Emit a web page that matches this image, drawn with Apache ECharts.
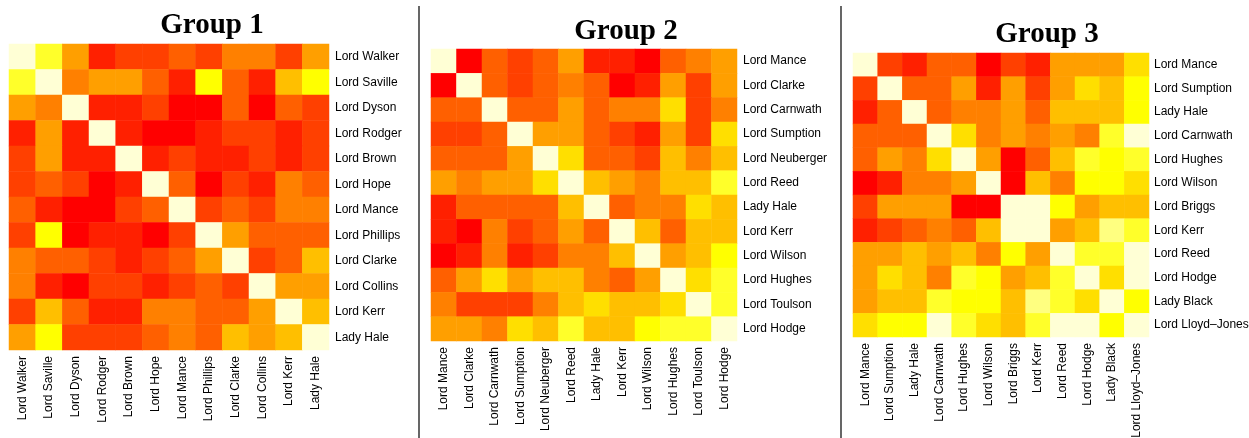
<!DOCTYPE html>
<html>
<head>
<meta charset="utf-8">
<script src="https://cdn.jsdelivr.net/npm/echarts@6/dist/echarts.min.js"></script>
<style>
html,body{margin:0;padding:0;background:#fff;}
#chart{width:1249px;height:438px;}
</style>
</head>
<body>
<div id="chart"></div>
<script>
// Colour levels (R heat.colors(12)), level 0 = red ... level 11 = cream
const levelColors = ['#FF0000','#FF2000','#FF4000','#FF6000','#FF8000','#FF9F00','#FFBF00','#FFDF00','#FFFF00','#FFFF2A','#FFFF80','#FFFFD5'];

const group1Names = ['Lord Walker','Lord Saville','Lord Dyson','Lord Rodger','Lord Brown','Lord Hope','Lord Mance','Lord Phillips','Lord Clarke','Lord Collins','Lord Kerr','Lady Hale'];
const group1Levels = [
  [11,9,5,1,2,2,3,2,4,4,2,5],
  [9,11,4,5,5,3,1,8,3,1,6,8],
  [5,4,11,1,1,2,0,0,3,0,3,2],
  [1,5,1,11,1,0,0,1,2,2,1,2],
  [2,5,1,1,11,1,2,1,1,2,1,2],
  [2,3,2,0,1,11,3,0,2,1,4,3],
  [3,1,0,0,2,3,11,2,3,2,4,4],
  [2,8,0,1,1,0,2,11,5,3,3,3],
  [4,3,3,2,1,2,3,5,11,2,3,6],
  [4,1,0,2,2,1,2,3,2,11,5,5],
  [2,6,3,1,1,4,4,3,3,5,11,6],
  [5,8,2,2,2,3,4,3,6,5,6,11]
];

const group2Names = ['Lord Mance','Lord Clarke','Lord Carnwath','Lord Sumption','Lord Neuberger','Lord Reed','Lady Hale','Lord Kerr','Lord Wilson','Lord Hughes','Lord Toulson','Lord Hodge'];
const group2Levels = [
  [11,0,3,2,3,5,1,1,0,3,4,5],
  [0,11,3,2,3,4,3,0,1,5,2,5],
  [3,3,11,3,3,5,3,4,4,7,2,4],
  [2,2,3,11,5,5,3,2,1,5,2,7],
  [3,3,3,5,11,7,3,3,2,6,4,6],
  [5,4,5,5,7,11,6,5,4,6,6,9],
  [1,3,3,3,3,6,11,3,4,4,7,6],
  [1,0,4,2,3,5,3,11,6,3,6,6],
  [0,1,4,1,2,4,4,6,11,5,6,8],
  [3,5,7,5,6,6,4,3,5,11,7,9],
  [4,2,2,2,4,6,7,6,6,7,11,9],
  [5,5,4,7,6,9,6,6,8,9,9,11]
];

const group3Names = ['Lord Mance','Lord Sumption','Lady Hale','Lord Carnwath','Lord Hughes','Lord Wilson','Lord Briggs','Lord Kerr','Lord Reed','Lord Hodge','Lady Black','Lord Lloyd\u2013Jones'];
const group3Levels = [
  [11,2,1,3,3,0,2,1,5,5,5,7],
  [2,11,3,3,5,1,5,2,5,7,6,8],
  [1,3,11,3,4,4,5,3,6,6,6,8],
  [3,3,3,11,7,4,5,4,5,4,9,11],
  [3,5,4,7,11,5,0,3,6,9,8,9],
  [0,1,4,4,5,11,0,6,4,8,8,7],
  [2,5,5,5,0,0,11,11,8,5,6,6],
  [1,2,3,4,3,6,11,11,5,6,10,9],
  [5,5,6,5,6,4,8,5,11,9,9,11],
  [5,7,6,4,9,8,5,6,9,11,7,11],
  [5,6,6,9,8,8,6,10,9,7,11,8],
  [7,8,8,11,9,7,6,9,11,11,8,11]
];

const groupTitles = ['Group 1','Group 2','Group 3'];

const groups = [
  {names: group1Names, levels: group1Levels, grid: {left: 9, top: 44, width: 320, height: 306}, title: {x: 212, y: 26}, yMargin: 6},
  {names: group2Names, levels: group2Levels, grid: {left: 431, top: 49, width: 306, height: 292}, title: {x: 626, y: 32}, yMargin: 6},
  {names: group3Names, levels: group3Levels, grid: {left: 853, top: 53, width: 296, height: 284}, title: {x: 1047, y: 34.5}, yMargin: 5}
];

const labelFont = {fontFamily: '"Liberation Sans", Arial, sans-serif', fontSize: 12, color: '#000'};

const option = {
  backgroundColor: '#fff',
  animation: false,
  grid: [],
  xAxis: [],
  yAxis: [],
  series: [],
  visualMap: {
    type: 'piecewise',
    show: false,
    seriesIndex: [0,1,2],
    dimension: 2,
    pieces: levelColors.map((c, i) => ({value: i, color: c}))
  },
  graphic: []
};

groups.forEach((g, gi) => {
  option.grid.push(Object.assign({containLabel: false, outerBoundsMode: 'none'}, g.grid));
  option.xAxis.push({
    type: 'category', gridIndex: gi, data: g.names, position: 'bottom',
    axisLine: {show: false}, axisTick: {show: false}, splitLine: {show: false},
    axisLabel: Object.assign({rotate: 90, margin: 6, interval: 0}, labelFont)
  });
  option.yAxis.push({
    type: 'category', gridIndex: gi, data: g.names, position: 'right', inverse: true,
    axisLine: {show: false}, axisTick: {show: false}, splitLine: {show: false},
    axisLabel: Object.assign({margin: g.yMargin, interval: 0}, labelFont)
  });
  const data = [];
  g.levels.forEach((row, r) => row.forEach((v, c) => data.push([c, r, v])));
  option.series.push({
    type: 'heatmap', xAxisIndex: gi, yAxisIndex: gi, data: data,
    itemStyle: {borderWidth: 0},
    emphasis: {disabled: true}
  });
  option.graphic.push({
    type: 'text', x: g.title.x, y: g.title.y,
    style: {text: groupTitles[gi], fontFamily: '"Liberation Serif", "Times New Roman", serif', fontWeight: 'bold', fontSize: 29, fill: '#000', align: 'center', verticalAlign: 'middle'}
  });
});

option.graphic.push(
  {type: 'line', shape: {x1: 419, y1: 6, x2: 419, y2: 438}, style: {stroke: '#000', lineWidth: 1.2}},
  {type: 'line', shape: {x1: 841, y1: 6, x2: 841, y2: 438}, style: {stroke: '#000', lineWidth: 1.2}}
);

const chart = echarts.init(document.getElementById('chart'), null, {renderer: 'canvas'});
chart.setOption(option);
</script>
</body>
</html>
